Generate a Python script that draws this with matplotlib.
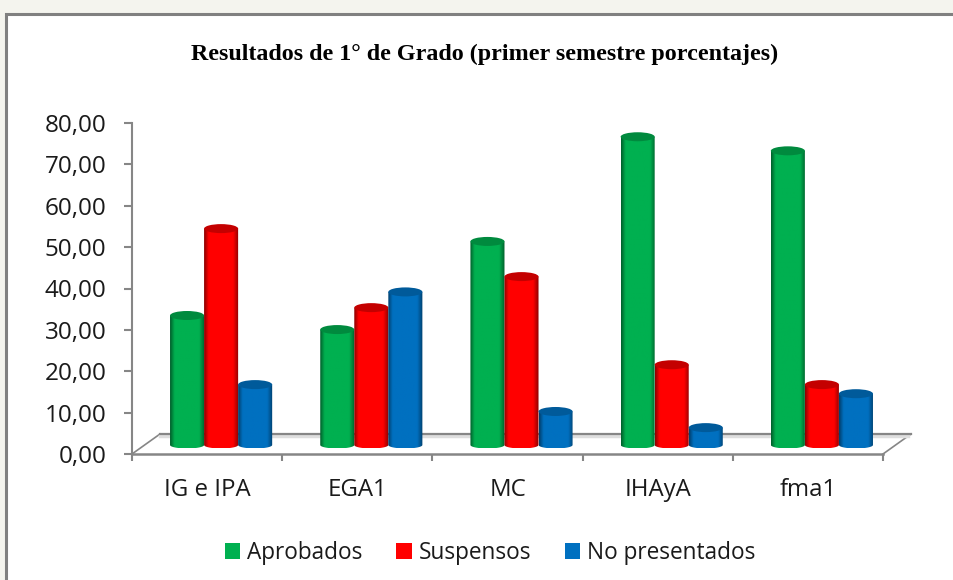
import numpy as np
import matplotlib
matplotlib.use('Agg')
import matplotlib.pyplot as plt
from matplotlib.colors import LinearSegmentedColormap
from matplotlib.patches import Ellipse, Patch, Rectangle
from matplotlib.path import Path
from matplotlib.transforms import Affine2D

# data
categories = ['IG e IPA', 'EGA1', 'MC', 'IHAyA', 'fma1']
aprobados = [31.3, 27.9, 49.2, 74.5, 71.1]
suspensos = [52.3, 33.2, 40.7, 19.4, 14.6]
no_presentados = [14.6, 37.0, 8.1, 4.2, 12.4]
y_ticks = [0, 10, 20, 30, 40, 50, 60, 70, 80]
y_labels = ['0,00', '10,00', '20,00', '30,00', '40,00', '50,00', '60,00', '70,00', '80,00']
title = 'Resultados de 1° de Grado (primer semestre porcentajes)'

W, H = 954, 580
GREY = '#868686'
series = [
    ('Aprobados', aprobados, '#00B050', '#00602c', '#008a3e'),
    ('Suspensos', suspensos, '#FF0000', '#8c0000', '#c40000'),
    ('No presentados', no_presentados, '#0070C0', '#00406e', '#005a9a'),
]

fig = plt.figure(figsize=(W / 100, H / 100), dpi=100, facecolor='#f4f4ee')
fig.add_artist(Rectangle((6.5 / W, -0.1), 1.1, 1.1 - 14.5 / H, transform=fig.transFigure,
                         facecolor='white', edgecolor='#808080', linewidth=2.2, zorder=-2))

# front plane of the chart
ax = fig.add_axes([132 / W, 1 - 454 / H, 751 / W, 331 / H])
ax.patch.set_visible(False)
ax.set_xlim(0, 5)
ax.set_ylim(0, 80)
for s in ['top', 'right', 'bottom']:
    ax.spines[s].set_visible(False)
ax.spines['left'].set_color(GREY)
ax.spines['left'].set_linewidth(1.5)

# floor of the 3d box
floor = ax.transAxes + Affine2D().translate(28, 20)
ax.plot([0, 0.996], [0, 0], color='#dedede', lw=2.5, transform=floor + Affine2D().translate(0, -2), clip_on=False, zorder=1)
ax.plot([0, 1], [0, 0], color=GREY, lw=1.6, transform=floor, clip_on=False, zorder=1)
ax.plot([0, 1], [0, 0], color=GREY, lw=1.8, transform=ax.transAxes, clip_on=False, zorder=1)
for x in [0, 1]:
    p0 = ax.transAxes.transform((x, 0))
    fig.add_artist(plt.Line2D([p0[0] / W, (p0[0] + 28) / W], [p0[1] / H, (p0[1] + 20) / H],
                              color=GREY, lw=1.2, transform=fig.transFigure, zorder=-1))

ax.set_yticks(y_ticks, labels=y_labels)
ax.set_xticks(range(6), labels=[''] * 6)
ax.set_xticks(np.arange(5) + 0.5, labels=categories, minor=True)
ax.tick_params(axis='y', length=6, width=1.5, color=GREY, pad=12.5, labelsize=17.5, labelcolor='#1a1a1a')
ax.tick_params(axis='x', which='major', length=5, width=1.5, color=GREY)
ax.tick_params(axis='x', which='minor', length=0, pad=17.5, labelsize=17.3, labelcolor='#1a1a1a')
for t in ax.get_yticklabels() + ax.get_xticklabels(minor=True):
    t.set_family('Open Sans')

# cylinders
width = 34 / 150
ry_top = 4.5 / (331 / 80)
ry_bot = 3.5 / (331 / 80)
trans = ax.transData + Affine2D().translate(14, 9)
for k, (name, vals, base, dark, top) in enumerate(series):
    cmap = LinearSegmentedColormap.from_list(name, [(0, dark), (0.13, base), (0.84, base), (1, dark)])
    for i, v in enumerate(vals):
        xc = i + 0.5 + (k - 1) * width
        x0, x1 = xc - width / 2, xc + width / 2
        th = np.linspace(np.pi, 2 * np.pi, 30)
        bx = xc + width / 2 * np.cos(th)
        by = ry_bot * np.sin(th)
        outline = np.vstack([np.column_stack([bx, by]), [x1, v], [x0, v], [bx[0], by[0]]])
        im = ax.imshow(np.linspace(0, 1, 64)[None, :], cmap=cmap, aspect='auto',
                       extent=[x0, x1, -ry_bot, v], zorder=3 + k, interpolation='bilinear')
        im.set_transform(trans)
        im.set_clip_path(Path(outline), trans)
        ax.add_patch(Ellipse((xc, v), width, 2 * ry_top, facecolor=top, edgecolor='none',
                             transform=trans, zorder=3 + k, clip_on=False))
ax.set_xlim(0, 5)
ax.set_ylim(0, 80)

fig.text(485 / W, 1 - 54 / H, title, family='Liberation Serif', fontweight='bold', fontsize=17.3,
         ha='center', va='center', color='black')

handles = [Patch(facecolor=s[2], label=s[0]) for s in series]
fig.legend(handles=handles, loc='center', bbox_to_anchor=(490 / W, 1 - 553 / H), ncol=3, frameon=False,
           prop={'family': 'Open Sans', 'size': 16.3}, labelcolor='#1a1a1a', handlelength=0.68, handleheight=0.68,
           handletextpad=0.3, columnspacing=1.5, borderpad=0)

plt.savefig('out.png', dpi=100, facecolor=fig.get_facecolor())
